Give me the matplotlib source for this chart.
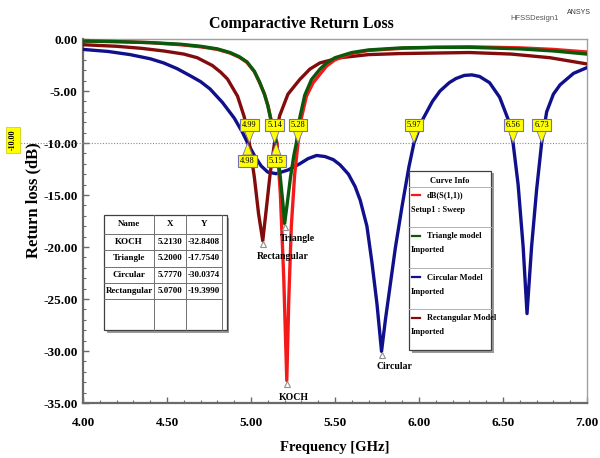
import matplotlib
matplotlib.use('Agg')
import matplotlib.pyplot as plt
from matplotlib.patches import Rectangle, Polygon
from matplotlib.lines import Line2D
from matplotlib.ticker import MultipleLocator, FormatStrFormatter

# ---------------- data ----------------
koch_f = [4.00, 4.20, 4.40, 4.58, 4.70, 4.80, 4.875, 4.93, 4.976, 5.02, 5.05, 5.08, 5.10,
          5.13, 5.155, 5.175, 5.195, 5.213, 5.225, 5.24, 5.26, 5.28, 5.30, 5.33, 5.37,
          5.41, 5.45, 5.50, 5.60, 5.70, 5.90, 6.10, 6.30, 6.60, 6.80, 7.00]
koch_db = [-0.20, -0.25, -0.35, -0.55, -0.75, -1.00, -1.35, -1.75, -2.25, -3.15, -4.15, -5.30, -6.35,
           -8.50, -10.0, -15.0, -23.0, -32.84, -25.0, -18.0, -13.0, -10.0, -7.6, -5.5, -4.2,
           -3.4, -2.6, -2.0, -1.4, -1.1, -0.9, -0.8, -0.75, -0.85, -1.0, -1.25]

tri_f = [4.00, 4.20, 4.40, 4.58, 4.70, 4.80, 4.875, 4.93, 4.976, 5.02, 5.05, 5.08, 5.10,
         5.125, 5.15, 5.17, 5.19, 5.20, 5.215, 5.235, 5.255, 5.27, 5.29, 5.32, 5.36,
         5.41, 5.45, 5.50, 5.60, 5.70, 5.90, 6.10, 6.30, 6.60, 6.80, 7.00]
tri_db = [-0.20, -0.25, -0.35, -0.50, -0.70, -0.95, -1.30, -1.70, -2.20, -3.10, -4.10, -5.30, -6.40,
          -8.30, -10.0, -12.6, -15.8, -17.754, -15.9, -13.3, -11.2, -10.0, -7.6, -5.4, -3.9,
          -2.9, -2.3, -1.8, -1.3, -1.05, -0.85, -0.8, -0.8, -0.95, -1.15, -1.45]

circ_f = [4.00, 4.15, 4.28, 4.40, 4.48, 4.56, 4.64, 4.70, 4.756, 4.83, 4.90, 4.95, 4.98,
          5.02, 5.06, 5.10, 5.15, 5.22, 5.29, 5.34, 5.39, 5.44, 5.49, 5.53, 5.58, 5.62,
          5.65, 5.69, 5.72, 5.75, 5.777, 5.80, 5.83, 5.86, 5.90, 5.94, 5.97, 6.02, 6.08,
          6.125, 6.18, 6.22, 6.27, 6.315, 6.36, 6.42, 6.48, 6.53, 6.56, 6.59, 6.62, 6.643,
          6.67, 6.70, 6.73, 6.76, 6.80, 6.84, 6.92, 7.00]
circ_db = [-1.00, -1.20, -1.50, -1.90, -2.30, -2.85, -3.55, -4.10, -4.80, -6.10, -7.60, -9.00, -10.0,
           -11.2, -12.2, -12.8, -12.95, -12.6, -12.0, -11.5, -11.2, -11.3, -11.6, -12.1, -13.0, -14.2,
           -15.5, -18.0, -21.5, -25.5, -30.0374, -27.0, -23.5, -20.0, -16.0, -12.3, -10.0, -7.8, -6.0,
           -5.0, -4.2, -3.8, -3.5, -3.45, -3.6, -4.2, -5.6, -7.7, -10.0, -14.0, -20.0, -26.4,
           -20.0, -14.5, -10.0, -7.0, -5.3, -4.4, -3.3, -2.75]

rect_f = [4.00, 4.20, 4.35, 4.48, 4.60, 4.68, 4.77, 4.82, 4.86, 4.92, 4.96, 4.99, 5.02,
          5.045, 5.07, 5.09, 5.115, 5.14, 5.17, 5.22, 5.29, 5.35, 5.41, 5.53, 5.70, 5.89,
          6.30, 6.55, 6.78, 7.00]
rect_db = [-0.55, -0.70, -0.90, -1.15, -1.45, -1.80, -2.55, -3.20, -3.85, -5.50, -7.50, -10.0, -13.3,
           -16.8, -19.399, -16.5, -12.8, -10.0, -7.4, -5.3, -3.9, -2.9, -2.3, -1.8, -1.5, -1.4,
           -1.3, -1.45, -1.8, -2.4]

tbl_names = ['KOCH', 'Triangle', 'Circular', 'Rectangular']
tbl_x = [5.2130, 5.2000, 5.7770, 5.0700]
tbl_y = [-32.8408, -17.7540, -30.0374, -19.3990]

mark_above = [4.99, 5.14, 5.28, 5.97, 6.56, 6.73]
mark_below = [4.98, 5.15]
ref_level = -10.0

legend_first = ['dB(S(1,1))', 'Triangle model', 'Circular Model', 'Rectangular Model']
legend_second = ['Setup1 : Sweep', 'Imported', 'Imported', 'Imported']

c_red, c_green, c_blue, c_dred = '#F41A1A', '#0B5A0B', '#10108C', '#820C0C'

# ---------------- figure ----------------
plt.rcParams['font.family'] = ['Liberation Serif', 'DejaVu Serif']
plt.rcParams['axes.unicode_minus'] = False
W, H = 600, 458
fig = plt.figure(figsize=(W / 100, H / 100), dpi=100)
fig.patch.set_facecolor('white')


def frect(x0, y0, x1, y1, **kw):
    r = Rectangle((x0 / W, 1 - y1 / H), (x1 - x0) / W, (y1 - y0) / H,
                  transform=fig.transFigure, **kw)
    fig.add_artist(r)
    return r


def fline(x0, y0, x1, y1, **kw):
    l = Line2D([x0 / W, x1 / W], [1 - y0 / H, 1 - y1 / H], transform=fig.transFigure, **kw)
    fig.add_artist(l)
    return l


ax = fig.add_axes([83 / W, 1 - 403 / H, 504 / W, 364 / H])
ax.set_xlim(4.0, 7.0)
ax.set_ylim(-35.0, 0.0)

lw = 2.4
ax.plot(circ_f, circ_db, color=c_blue, lw=lw, zorder=3)
ax.plot(rect_f, rect_db, color=c_dred, lw=lw, zorder=3)
ax.plot(koch_f, koch_db, color=c_red, lw=lw, zorder=3)
ax.plot(tri_f, tri_db, color=c_green, lw=lw, zorder=3)

ax.axhline(ref_level, color='#8a8a8a', lw=0.8, ls=(0, (1, 1.5)), zorder=2)

# axes styling
for s in ['left', 'bottom']:
    ax.spines[s].set_color('#6a6a6a')
    ax.spines[s].set_linewidth(1.6)
for s in ['top', 'right']:
    ax.spines[s].set_color('#a0a0a0')
    ax.spines[s].set_linewidth(1.0)
ax.xaxis.set_major_locator(MultipleLocator(0.5))
ax.xaxis.set_minor_locator(MultipleLocator(0.1))
ax.yaxis.set_major_locator(MultipleLocator(5))
ax.yaxis.set_minor_locator(MultipleLocator(1))
ax.xaxis.set_major_formatter(FormatStrFormatter('%.2f'))
ax.yaxis.set_major_formatter(FormatStrFormatter('%.2f'))
ax.tick_params(which='both', direction='in', color='#6a6a6a', top=False, right=False)
ax.tick_params(which='major', length=4, width=1.0)
ax.tick_params(which='minor', length=2.5, width=0.8)
ax.tick_params(axis='x', which='major', pad=10)
ax.tick_params(axis='y', which='major', pad=4)
for lab in ax.get_xticklabels() + ax.get_yticklabels():
    lab.set_fontweight('bold')
    lab.set_fontsize(9.5)

# -10 dB markers
box_ec = '#7272B4'
for f in mark_above:
    ax.add_patch(Polygon([[f - 0.028, -8.85], [f + 0.028, -8.85], [f, ref_level]], closed=True,
                         fc='#FFFF00', ec=box_ec, lw=0.6, zorder=5))
    ax.text(f, -8.27, '%.2f' % f, ha='center', va='center', fontsize=6, zorder=6,
            bbox=dict(boxstyle='square,pad=0.25', fc='#FFFF00', ec=box_ec, lw=0.8))
for f in mark_below:
    ax.add_patch(Polygon([[f - 0.028, -11.15], [f + 0.028, -11.15], [f, ref_level]], closed=True,
                         fc='#FFFF00', ec=box_ec, lw=0.6, zorder=5))
    ax.text(f, -11.73, '%.2f' % f, ha='center', va='center', fontsize=6, zorder=6,
            bbox=dict(boxstyle='square,pad=0.25', fc='#FFFF00', ec=box_ec, lw=0.8))

# minimum markers and labels
ax.plot(tbl_x, [v - 0.35 for v in tbl_y], ls='none', marker='^', ms=4.5, mfc='white',
        mec='#909090', mew=0.8, zorder=6)
min_label_pos = [(5.256, -34.5), (5.274, -19.2), (5.851, -31.5), (5.19, -20.9)]
for name, (lx, ly) in zip(tbl_names, min_label_pos):
    ax.text(lx, ly, name, ha='center', va='center', fontsize=7, fontweight='bold', zorder=6)

# titles and axis labels
fig.text(301 / W, 1 - 23.5 / H, 'Comparactive Return Loss', ha='center', va='center',
         fontsize=11.5, fontweight='bold')
fig.text(510 / W, 1 - 19 / H, 'HFSSDesign1', ha='left', va='center', fontsize=5.5,
         color='#555555', family=['Liberation Sans', 'DejaVu Sans'])
fig.text(567 / W, 1 - 13 / H, 'ANSYS', ha='left', va='center', fontsize=5,
         color='#333333', family=['Liberation Sans', 'DejaVu Sans'])
fig.text(335 / W, 1 - 447 / H, 'Frequency [GHz]', ha='center', va='center',
         fontsize=10.5, fontweight='bold')
fig.text(33 / W, 1 - 200 / H, 'Return loss (dB)', ha='center', va='center', rotation=90,
         fontsize=12, fontweight='bold')

# left -10.00 tag with dotted leader
fline(18, 143, 83, 143, color='#8a8a8a', lw=0.8, ls=(0, (1, 1.5)))
fig.text(13 / W, 1 - 140 / H, '-10.00', ha='center', va='center', rotation=90, fontsize=5.8,
         fontweight='bold', bbox=dict(boxstyle='square,pad=0.35', fc='#FFFF00', ec='#C8C800', lw=0.5))

# ---------------- marker table ----------------
tx0, ty0, tx1, ty1 = 104, 215, 227, 330
frect(tx0 + 2.5, ty0 + 2.5, tx1 + 2.5, ty1 + 2.5, fc='#9a9a9a', ec='none', zorder=1)
frect(tx0, ty0, tx1, ty1, fc='white', ec='#404040', lw=0.9, zorder=1.1)
col_x = [154, 186, 222]
row_y = [234, 250, 267, 283, 299]
for cx in col_x:
    fline(cx, ty0, cx, ty1, color='#707070', lw=0.7)
for ry in row_y:
    fline(tx0, ry, col_x[-1], ry, color='#707070', lw=0.7)
col_c = [129, 170, 204]
row_c = [224.5, 242, 258.5, 275, 291]
hdr = ['Name', 'X', 'Y']
for j, t in enumerate(hdr):
    fig.text(col_c[j] / W, 1 - row_c[0] / H, t, ha='center', va='center', fontsize=6.5,
             fontweight='bold')
for i, name in enumerate(tbl_names):
    vals = [name, '%.4f' % tbl_x[i], '%.4f' % tbl_y[i]]
    for j, t in enumerate(vals):
        fig.text(col_c[j] / W, 1 - row_c[i + 1] / H, t, ha='center', va='center',
                 fontsize=6.5, fontweight='bold')

# ---------------- curve info legend ----------------
lx0, ly0, lx1, ly1 = 409, 171, 491, 350
frect(lx0 + 2.5, ly0 + 2.5, lx1 + 2.5, ly1 + 2.5, fc='#9a9a9a', ec='none', zorder=1)
frect(lx0, ly0, lx1, ly1, fc='white', ec='#404040', lw=0.9, zorder=1.1)
fig.text(450 / W, 1 - 181 / H, 'Curve Info', ha='center', va='center', fontsize=6,
         fontweight='bold')
for sy in [187, 227, 268, 309]:
    fline(lx0, sy, lx1, sy, color='#b0b0b0', lw=0.7)
entry_y = [195, 236, 277, 318]
colors = [c_red, c_green, c_blue, c_dred]
for ey, col, t1, t2 in zip(entry_y, colors, legend_first, legend_second):
    fline(412, ey, 420, ey, color=col, lw=1.6)
    fig.text(427 / W, 1 - (ey + 0.5) / H, t1, ha='left', va='center', fontsize=6,
             fontweight='bold')
    fig.text(411 / W, 1 - (ey + 14.5) / H, t2, ha='left', va='center', fontsize=6,
             fontweight='bold')

fig.savefig('out.png', dpi=100, facecolor='white')
